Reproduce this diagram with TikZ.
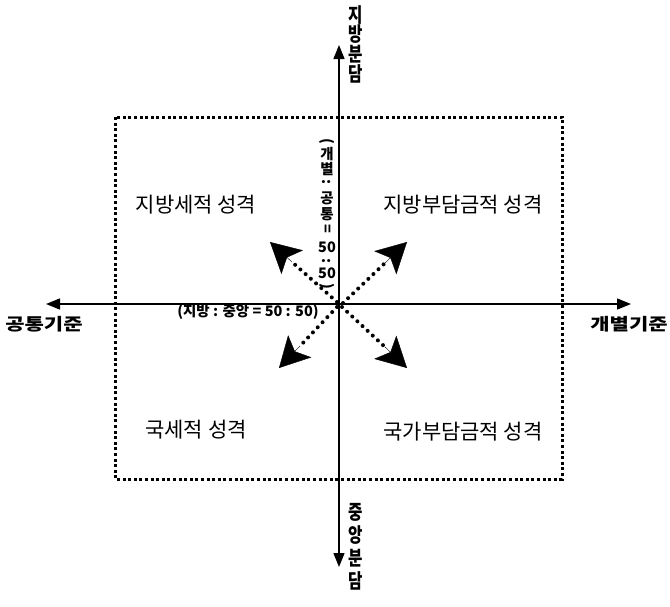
\documentclass[tikz,border=0pt]{standalone}
\usepackage{fontspec}
\setmainfont{Noto Sans CJK KR}
\usetikzlibrary{arrows.meta}
\tikzset{
  axis/.style={line width=1.4pt,-{Triangle[length=14pt,width=11pt]}},
  dotbox/.style={line width=3pt,dash pattern=on 3pt off 2.6pt},
  dotarrow/.style={line width=4pt,dash pattern=on 0pt off 7pt,line cap=round},
  headarrow/.style={-{Stealth[length=30pt,width=32pt,inset=7pt]}},
  quad/.style={font=\fontsize{21}{23}\selectfont,inner sep=0pt},
  axlab/.style={font=\bfseries\fontsize{21}{23}\selectfont,inner sep=0pt,yscale=0.8},
  vlab/.style={font=\bfseries\fontsize{20}{22}\selectfont,inner sep=0pt,xscale=0.78},
  midlab/.style={font=\bfseries\fontsize{14.5}{16}\selectfont,inner sep=0pt},
}
\begin{document}
\begin{tikzpicture}[x=1pt,y=-1pt]
\useasboundingbox (0,0) rectangle (670,606);
% dotted box
\draw[dotbox] (115,117) rectangle (562,479);
% axes
\coordinate (c) at (339,304);
\coordinate (top) at (339,45);
\coordinate (bot) at (339,567);
\coordinate (lft) at (46,304);
\coordinate (rgt) at (631,304);
\draw[axis] (c) -- (top);
\draw[axis] (c) -- (bot);
\draw[axis] (c) -- (lft);
\draw[axis] (c) -- (rgt);
% diagonal dotted arrows
\coordinate (o1) at (337,302);
\coordinate (b1) at (292,262);
\coordinate (t1) at (270,242);
\coordinate (o2) at (343,303);
\coordinate (b2) at (385,263);
\coordinate (t2) at (407,242);
\coordinate (o3) at (337,307);
\coordinate (b3) at (300,346);
\coordinate (t3) at (279,368);
\coordinate (o4) at (342,307);
\coordinate (b4) at (385,347);
\coordinate (t4) at (407,368);
\draw[dotarrow] (o1) -- (b1);
\draw[dotarrow] (o2) -- (b2);
\draw[dotarrow] (o3) -- (b3);
\draw[dotarrow] (o4) -- (b4);
\draw[headarrow] (b1) -- (t1);
\draw[headarrow] (b2) -- (t2);
\draw[headarrow] (b3) -- (t3);
\draw[headarrow] (b4) -- (t4);
% quadrant labels
\node[quad] (q1) at (196,205) {지방세적 성격};
\node[quad] (q2) at (463,205) {지방부담금적 성격};
\node[quad] (q3) at (196,430) {국세적 성격};
\node[quad] (q4) at (463,432) {국가부담금적 성격};
% axis labels
\node[axlab] (al) at (44,324) {공통기준};
\node[axlab] (ar) at (629,324) {개별기준};
\node[midlab] (hm) at (248,312) {(지방 : 중앙 = 50 : 50)};
% vertical top label
\node[vlab] (v1) at (356,15) {지};
\node[vlab] (v2) at (356,34.5) {방};
\node[vlab] (v3) at (356,54) {분};
\node[vlab] (v4) at (356,73.5) {담};
% vertical bottom label
\node[vlab] (w1) at (356,512) {중};
\node[vlab] (w2) at (356,535) {앙};
\node[vlab] (w3) at (356,558) {분};
\node[vlab] (w4) at (356,581) {담};
% vertical middle label
\node[midlab,rotate=-90] (m1) at (327,141) {(};
\node[midlab] (m2) at (327,154) {개};
\node[midlab] (m3) at (327,169) {별};
\node[midlab,rotate=-90] (m4) at (327,182) {:};
\node[midlab] (m5) at (327,198) {공};
\node[midlab] (m6) at (327,214) {통};
\node[midlab,rotate=-90] (m7) at (327,229) {=};
\node[midlab] (m8) at (327,247) {50};
\node[midlab,rotate=-90] (m9) at (327,261) {:};
\node[midlab] (m10) at (327,273) {50};
\node[midlab,rotate=-90] (m11) at (327,286) {)};
\end{tikzpicture}
\end{document}
